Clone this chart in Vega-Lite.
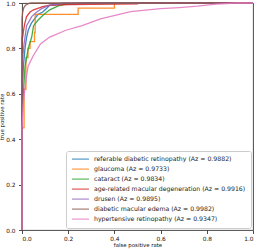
{
  "$schema": "https://vega.github.io/schema/vega-lite/v6.json",
  "width": 231,
  "height": 227,
  "autosize": {"type": "none"},
  "padding": {"left": 22, "top": 3, "right": 8, "bottom": 19},
  "background": "white",
  "config": {
    "font": "DejaVu Sans",
    "view": {"stroke": "#333", "strokeWidth": 0.9},
    "style": {"cell": {"strokeForeground": false}},
    "axis": {
      "grid": false,
      "zindex": 0,
      "domain": false,
      "tickColor": "#222",
      "tickWidth": 0.8,
      "tickSize": 3.5,
      "labelFontSize": 5.8,
      "labelColor": "#111",
      "titleFontSize": 5.4,
      "titleFontWeight": "normal",
      "titleColor": "#111"
    }
  },
  "data": {
    "values": [
      {"s": "a", "i": 0, "fpr": 0, "tpr": 0},
      {"s": "a", "i": 1, "fpr": 0, "tpr": 0.55},
      {"s": "a", "i": 2, "fpr": 0.003, "tpr": 0.65},
      {"s": "a", "i": 3, "fpr": 0.006, "tpr": 0.72},
      {"s": "a", "i": 4, "fpr": 0.013, "tpr": 0.80},
      {"s": "a", "i": 5, "fpr": 0.02, "tpr": 0.85},
      {"s": "a", "i": 6, "fpr": 0.027, "tpr": 0.88},
      {"s": "a", "i": 7, "fpr": 0.04, "tpr": 0.91},
      {"s": "a", "i": 8, "fpr": 0.05, "tpr": 0.925},
      {"s": "a", "i": 9, "fpr": 0.07, "tpr": 0.95},
      {"s": "a", "i": 10, "fpr": 0.09, "tpr": 0.96},
      {"s": "a", "i": 11, "fpr": 0.105, "tpr": 0.975},
      {"s": "a", "i": 12, "fpr": 0.12, "tpr": 0.99},
      {"s": "a", "i": 13, "fpr": 0.165, "tpr": 0.995},
      {"s": "a", "i": 14, "fpr": 0.3, "tpr": 1},
      {"s": "a", "i": 15, "fpr": 1, "tpr": 1},

      {"s": "b", "i": 0, "fpr": 0, "tpr": 0},
      {"s": "b", "i": 1, "fpr": 0, "tpr": 0.45},
      {"s": "b", "i": 2, "fpr": 0.009, "tpr": 0.45},
      {"s": "b", "i": 3, "fpr": 0.009, "tpr": 0.62},
      {"s": "b", "i": 4, "fpr": 0.017, "tpr": 0.62},
      {"s": "b", "i": 5, "fpr": 0.017, "tpr": 0.76},
      {"s": "b", "i": 6, "fpr": 0.026, "tpr": 0.76},
      {"s": "b", "i": 7, "fpr": 0.026, "tpr": 0.80},
      {"s": "b", "i": 8, "fpr": 0.035, "tpr": 0.80},
      {"s": "b", "i": 9, "fpr": 0.035, "tpr": 0.83},
      {"s": "b", "i": 10, "fpr": 0.054, "tpr": 0.83},
      {"s": "b", "i": 11, "fpr": 0.054, "tpr": 0.87},
      {"s": "b", "i": 12, "fpr": 0.057, "tpr": 0.87},
      {"s": "b", "i": 13, "fpr": 0.057, "tpr": 0.95},
      {"s": "b", "i": 14, "fpr": 0.243, "tpr": 0.95},
      {"s": "b", "i": 15, "fpr": 0.243, "tpr": 0.977},
      {"s": "b", "i": 16, "fpr": 0.40, "tpr": 0.977},
      {"s": "b", "i": 17, "fpr": 0.40, "tpr": 1},
      {"s": "b", "i": 18, "fpr": 1, "tpr": 1},

      {"s": "c", "i": 0, "fpr": 0, "tpr": 0},
      {"s": "c", "i": 1, "fpr": 0, "tpr": 0.45},
      {"s": "c", "i": 2, "fpr": 0.003, "tpr": 0.55},
      {"s": "c", "i": 3, "fpr": 0.006, "tpr": 0.60},
      {"s": "c", "i": 4, "fpr": 0.013, "tpr": 0.72},
      {"s": "c", "i": 5, "fpr": 0.027, "tpr": 0.80},
      {"s": "c", "i": 6, "fpr": 0.042, "tpr": 0.85},
      {"s": "c", "i": 7, "fpr": 0.05, "tpr": 0.90},
      {"s": "c", "i": 8, "fpr": 0.07, "tpr": 0.925},
      {"s": "c", "i": 9, "fpr": 0.092, "tpr": 0.947},
      {"s": "c", "i": 10, "fpr": 0.12, "tpr": 0.97},
      {"s": "c", "i": 11, "fpr": 0.157, "tpr": 0.987},
      {"s": "c", "i": 12, "fpr": 0.19, "tpr": 0.995},
      {"s": "c", "i": 13, "fpr": 0.3, "tpr": 1},
      {"s": "c", "i": 14, "fpr": 1, "tpr": 1},

      {"s": "d", "i": 0, "fpr": 0, "tpr": 0},
      {"s": "d", "i": 1, "fpr": 0, "tpr": 0.85},
      {"s": "d", "i": 2, "fpr": 0.003, "tpr": 0.85},
      {"s": "d", "i": 3, "fpr": 0.006, "tpr": 0.875},
      {"s": "d", "i": 4, "fpr": 0.012, "tpr": 0.91},
      {"s": "d", "i": 5, "fpr": 0.02, "tpr": 0.94},
      {"s": "d", "i": 6, "fpr": 0.035, "tpr": 0.96},
      {"s": "d", "i": 7, "fpr": 0.05, "tpr": 0.97},
      {"s": "d", "i": 8, "fpr": 0.09, "tpr": 0.984},
      {"s": "d", "i": 9, "fpr": 0.12, "tpr": 0.99},
      {"s": "d", "i": 10, "fpr": 0.2, "tpr": 0.993},
      {"s": "d", "i": 11, "fpr": 0.5, "tpr": 0.996},
      {"s": "d", "i": 12, "fpr": 0.5, "tpr": 1},
      {"s": "d", "i": 13, "fpr": 1, "tpr": 1},

      {"s": "e", "i": 0, "fpr": 0, "tpr": 0},
      {"s": "e", "i": 1, "fpr": 0, "tpr": 0.70},
      {"s": "e", "i": 2, "fpr": 0.004, "tpr": 0.77},
      {"s": "e", "i": 3, "fpr": 0.009, "tpr": 0.82},
      {"s": "e", "i": 4, "fpr": 0.02, "tpr": 0.90},
      {"s": "e", "i": 5, "fpr": 0.042, "tpr": 0.94},
      {"s": "e", "i": 6, "fpr": 0.064, "tpr": 0.96},
      {"s": "e", "i": 7, "fpr": 0.085, "tpr": 0.975},
      {"s": "e", "i": 8, "fpr": 0.12, "tpr": 0.99},
      {"s": "e", "i": 9, "fpr": 0.18, "tpr": 1},
      {"s": "e", "i": 10, "fpr": 1, "tpr": 1},

      {"s": "f", "i": 0, "fpr": 0, "tpr": 0},
      {"s": "f", "i": 1, "fpr": 0, "tpr": 0.93},
      {"s": "f", "i": 2, "fpr": 0.003, "tpr": 0.96},
      {"s": "f", "i": 3, "fpr": 0.008, "tpr": 0.98},
      {"s": "f", "i": 4, "fpr": 0.015, "tpr": 0.99},
      {"s": "f", "i": 5, "fpr": 0.03, "tpr": 0.998},
      {"s": "f", "i": 6, "fpr": 0.04, "tpr": 1},
      {"s": "f", "i": 7, "fpr": 1, "tpr": 1},

      {"s": "g", "i": 0, "fpr": 0, "tpr": 0},
      {"s": "g", "i": 1, "fpr": 0, "tpr": 0.45},
      {"s": "g", "i": 2, "fpr": 0.005, "tpr": 0.55},
      {"s": "g", "i": 3, "fpr": 0.01, "tpr": 0.60},
      {"s": "g", "i": 4, "fpr": 0.02, "tpr": 0.68},
      {"s": "g", "i": 5, "fpr": 0.026, "tpr": 0.72},
      {"s": "g", "i": 6, "fpr": 0.04, "tpr": 0.75},
      {"s": "g", "i": 7, "fpr": 0.05, "tpr": 0.77},
      {"s": "g", "i": 8, "fpr": 0.08, "tpr": 0.82},
      {"s": "g", "i": 9, "fpr": 0.12, "tpr": 0.85},
      {"s": "g", "i": 10, "fpr": 0.19, "tpr": 0.88},
      {"s": "g", "i": 11, "fpr": 0.26, "tpr": 0.90},
      {"s": "g", "i": 12, "fpr": 0.34, "tpr": 0.93},
      {"s": "g", "i": 13, "fpr": 0.47, "tpr": 0.962},
      {"s": "g", "i": 14, "fpr": 0.6, "tpr": 0.975},
      {"s": "g", "i": 15, "fpr": 0.68, "tpr": 0.98},
      {"s": "g", "i": 16, "fpr": 0.76, "tpr": 0.986},
      {"s": "g", "i": 17, "fpr": 0.84, "tpr": 0.995},
      {"s": "g", "i": 18, "fpr": 0.93, "tpr": 1},
      {"s": "g", "i": 19, "fpr": 1, "tpr": 1}
    ]
  },
  "mark": {"type": "line", "strokeWidth": 1.3, "opacity": 0.88, "clip": false},
  "encoding": {
    "x": {
      "field": "fpr",
      "type": "quantitative",
      "scale": {"domain": [0, 1], "nice": false, "zero": false},
      "axis": {"title": "false positive rate", "values": [0, 0.2, 0.4, 0.6, 0.8, 1], "format": ".1f", "labelPadding": 1.5, "titlePadding": 2}
    },
    "y": {
      "field": "tpr",
      "type": "quantitative",
      "scale": {"domain": [0, 1], "nice": false, "zero": false},
      "axis": {"title": "true positive rate", "values": [0, 0.2, 0.4, 0.6, 0.8, 1], "format": ".1f", "labelPadding": 3.5, "titlePadding": 1}
    },
    "color": {
      "field": "s",
      "type": "nominal",
      "sort": null,
      "scale": {
        "domain": ["a", "b", "c", "d", "e", "f", "g"],
        "range": ["#1f77b4", "#ff7f0e", "#2ca02c", "#d62728", "#9467bd", "#8c564b", "#e377c2"]
      },
      "legend": {
        "title": null,
        "orient": "bottom-right",
        "offset": 2,
        "fillColor": "rgba(255,255,255,0.85)",
        "strokeColor": "#cccccc",
        "cornerRadius": 2,
        "padding": 5,
        "rowPadding": 3,
        "labelFontSize": 6.2,
        "labelColor": "#222",
        "symbolType": "M-1,0H7",
        "symbolSize": 18,
        "symbolStrokeWidth": 1.3,
        "symbolOpacity": 0.7,
        "labelOffset": 16.8,
        "labelExpr": "{'a': 'referable diabetic retinopathy (Az = 0.9882)', 'b': 'glaucoma (Az = 0.9733)', 'c': 'cataract (Az = 0.9834)', 'd': 'age-related macular degeneration (Az = 0.9916)', 'e': 'drusen (Az = 0.9895)', 'f': 'diabetic macular edema (Az = 0.9982)', 'g': 'hypertensive retinopathy (Az = 0.9347)'}[datum.label]"
      }
    },
    "order": {"field": "i", "type": "quantitative"}
  }
}
